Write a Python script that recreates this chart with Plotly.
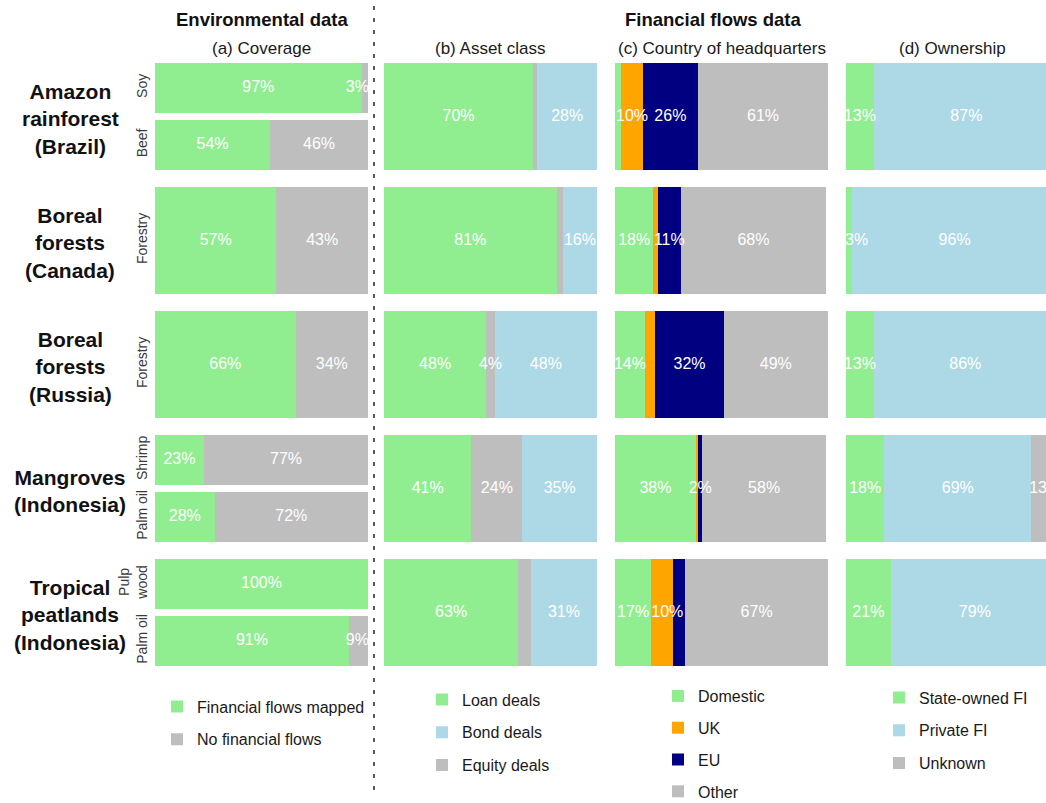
import plotly.graph_objects as go
from collections import Counter

# ---------------- data ----------------
regions = ["Amazon<br>rainforest<br>(Brazil)", "Boreal<br>forests<br>(Canada)",
           "Boreal<br>forests<br>(Russia)", "Mangroves<br>(Indonesia)",
           "Tropical<br>peatlands<br>(Indonesia)"]

# (a) Coverage
cov_region = [0, 0, 1, 2, 3, 3, 4, 4]
cov_commodity = ["Soy", "Beef", "Forestry", "Forestry", "Shrimp", "Palm oil", "Pulp<br>wood", "Palm oil"]
cov_mapped = [97, 54, 57, 66, 23, 28, 100, 91]
cov_none = [3, 46, 43, 34, 77, 72, 0, 9]

# (b) Asset class
asset_loan = [70, 81, 48, 41, 63]
asset_equity = [2, 3, 4, 24, 6]
asset_bond = [28, 16, 48, 35, 31]
asset_equity_show = [False, False, True, True, False]

# (c) Country of headquarters
hq_domestic = [3, 18, 14, 38, 17]
hq_uk = [10, 2, 5, 1, 10]
hq_eu = [26, 11, 32, 2, 6]
hq_other = [61, 68, 49, 58, 67]
hq_domestic_show = [False, True, True, True, True]
hq_uk_show = [True, False, False, False, True]
hq_eu_show = [True, True, True, True, False]

# (d) Ownership
own_state = [13, 3, 13, 18, 21]
own_private = [87, 96, 86, 69, 79]
own_unknown = [0, 1, 1, 13, 0]
own_unknown_show = [False, False, False, True, False]

# ---------------- style / geometry ----------------
W, H = 1046, 803
FONT = "Liberation Sans, Arial, Helvetica, sans-serif"
GREEN, GREY, BLUE, ORANGE, NAVY = "#90EE90", "#BEBEBE", "#ADD8E6", "#FFA500", "#000080"
PANEL_L = [155, 384, 615, 846]
PANEL_W = 213
ROW_TOP_PX, ROW_PX = 54.5, 124.0
ROW_W = 0.86
SUB_STEP, SUB_W = 0.46, 0.41
LABEL_MIN, LABEL_MAX = 5, 95
LABEL_SIZE = 16
PX_PER_UNIT = PANEL_W / 100
n_rows = len(regions)


def px_x(p):
    return p / W


def px_y(p):
    return 1 - p / H


def text_w_units(s):
    """Approximate rendered width of a label, in axis units."""
    px = sum(0.889 if ch == "%" else 0.556 for ch in s) * LABEL_SIZE
    return px / PX_PER_UNIT


rows = list(range(n_rows))
row_w = [ROW_W] * n_rows

# coverage sub-bar positions derived from region grouping
counts = Counter(cov_region)
seen = Counter()
cov_y, cov_w = [], []
for r in cov_region:
    n = counts[r]
    k = seen[r]
    seen[r] += 1
    cov_y.append(r + (k - (n - 1) / 2) * SUB_STEP)
    cov_w.append(SUB_W if n > 1 else ROW_W)

fig = go.Figure()


def add_bar(x, y, w, name, color, xaxis, legend, rank):
    fig.add_trace(go.Bar(
        x=x, y=y, width=w, orientation="h", name=name,
        marker=dict(color=color, line=dict(width=0)),
        xaxis=xaxis, yaxis="y", legend=legend, legendgroup=legend + name,
        legendrank=rank, hoverinfo="skip",
    ))


def add_labels(series, shows, ys, xaxis):
    """White percentage labels centred on each stacked segment, drawn above all bars."""
    lx, ly, lt = [], [], []
    cum = [0] * len(ys)
    last_right = [None] * len(ys)
    for vals, show in zip(series, shows):
        if show is None:
            show = [v > 0 for v in vals]
        for i, (v, s) in enumerate(zip(vals, show)):
            if s:
                t = f"{v}%"
                w = text_w_units(t)
                c = min(max(cum[i] + v / 2, LABEL_MIN), LABEL_MAX)
                if last_right[i] is not None and c - w / 2 < last_right[i] + 1:
                    c = last_right[i] + 1 + w / 2
                last_right[i] = c + w / 2
                lx.append(c)
                ly.append(ys[i])
                lt.append(t)
            cum[i] += v
    fig.add_trace(go.Scatter(
        x=lx, y=ly, text=lt, mode="text", textposition="middle center",
        textfont=dict(color="white", size=LABEL_SIZE, family=FONT),
        xaxis=xaxis, yaxis="y", showlegend=False, hoverinfo="skip", cliponaxis=False,
    ))


add_bar(cov_mapped, cov_y, cov_w, "Financial flows mapped", GREEN, "x", "legend", 1)
add_bar(cov_none, cov_y, cov_w, "No financial flows", GREY, "x", "legend", 2)

add_bar(asset_loan, rows, row_w, "Loan deals", GREEN, "x2", "legend2", 1)
add_bar(asset_equity, rows, row_w, "Equity deals", GREY, "x2", "legend2", 3)
add_bar(asset_bond, rows, row_w, "Bond deals", BLUE, "x2", "legend2", 2)

add_bar(hq_domestic, rows, row_w, "Domestic", GREEN, "x3", "legend3", 1)
add_bar(hq_uk, rows, row_w, "UK", ORANGE, "x3", "legend3", 2)
add_bar(hq_eu, rows, row_w, "EU", NAVY, "x3", "legend3", 3)
add_bar(hq_other, rows, row_w, "Other", GREY, "x3", "legend3", 4)

add_bar(own_state, rows, row_w, "State-owned FI", GREEN, "x4", "legend4", 1)
add_bar(own_private, rows, row_w, "Private FI", BLUE, "x4", "legend4", 2)
add_bar(own_unknown, rows, row_w, "Unknown", GREY, "x4", "legend4", 3)

add_labels([cov_mapped, cov_none], [None, None], cov_y, "x")
add_labels([asset_loan, asset_equity, asset_bond], [None, asset_equity_show, None], rows, "x2")
add_labels([hq_domestic, hq_uk, hq_eu, hq_other],
           [hq_domestic_show, hq_uk_show, hq_eu_show, None], rows, "x3")
add_labels([own_state, own_private, own_unknown], [None, None, own_unknown_show], rows, "x4")

# ---------------- axes ----------------
ax_common = dict(showgrid=False, zeroline=False, showline=False, showticklabels=False, ticks="", fixedrange=True)
for i, left in enumerate(PANEL_L):
    key = "xaxis" if i == 0 else f"xaxis{i + 1}"
    right = min(left + PANEL_W, W)
    rng_max = 100 * (right - left) / PANEL_W
    fig.layout[key] = dict(domain=[px_x(left), px_x(right)], range=[0, rng_max], anchor="y", **ax_common)

y_bottom_px = ROW_TOP_PX + n_rows * ROW_PX
fig.update_layout(yaxis=dict(
    domain=[px_y(y_bottom_px), px_y(ROW_TOP_PX)], range=[n_rows - 0.5, -0.5],
    tickvals=cov_y, ticktext=cov_commodity, tickangle=-90, ticks="", ticklen=0,
    ticklabelstandoff=4,
    tickfont=dict(size=14, color="#3A3A3A", family=FONT),
    showgrid=False, zeroline=False, showline=False, fixedrange=True, anchor="x",
))

# ---------------- text ----------------
annotations = []
for r, name in enumerate(regions):
    annotations.append(dict(text=f"<b>{name}</b>", x=px_x(70), xref="paper", y=r, yref="y",
                            yshift=-2, xanchor="center", yanchor="middle", showarrow=False,
                            font=dict(size=21, color="#111111", family=FONT)))

annotations.append(dict(text="<b>Environmental data</b>", x=px_x(PANEL_L[0] + PANEL_W / 2), y=px_y(20),
                        xref="paper", yref="paper", showarrow=False, xanchor="center", yanchor="middle",
                        font=dict(size=18.5, color="#111111", family=FONT)))
annotations.append(dict(text="<b>Financial flows data</b>", x=px_x(713), y=px_y(20),
                        xref="paper", yref="paper", showarrow=False, xanchor="center", yanchor="middle",
                        font=dict(size=18.5, color="#111111", family=FONT)))
subtitles = ["(a) Coverage", "(b) Asset class", "(c) Country of headquarters", "(d) Ownership"]
for left, st in zip(PANEL_L, subtitles):
    annotations.append(dict(text=st, x=px_x(left + PANEL_W / 2), y=px_y(48), xref="paper", yref="paper",
                            showarrow=False, xanchor="center", yanchor="middle",
                            font=dict(size=17, color="#1A1A1A", family=FONT)))

fig.update_layout(annotations=annotations)

fig.add_shape(type="line", xref="paper", yref="paper", x0=px_x(374), x1=px_x(374),
              y0=px_y(6), y1=px_y(792), line=dict(color="#222222", width=1.5, dash="4px,8px"))

# ---------------- legends ----------------
leg_common = dict(xanchor="left", yanchor="top", bgcolor="rgba(0,0,0,0)", traceorder="grouped",
                  tracegroupgap=9, font=dict(size=16, color="#1A1A1A", family=FONT), borderwidth=0)
fig.update_layout(
    legend=dict(x=px_x(157), y=px_y(689.5), **leg_common),
    legend2=dict(x=px_x(422), y=px_y(682.5), **leg_common),
    legend3=dict(x=px_x(658), y=px_y(679), **dict(leg_common, tracegroupgap=8)),
    legend4=dict(x=px_x(879), y=px_y(680.5), **leg_common),
)

fig.update_layout(width=W, height=H, margin=dict(l=0, r=0, t=0, b=0, autoexpand=False),
                  barmode="stack", paper_bgcolor="white", plot_bgcolor="white", showlegend=True,
                  font=dict(family=FONT))

fig.write_html("out.html")
